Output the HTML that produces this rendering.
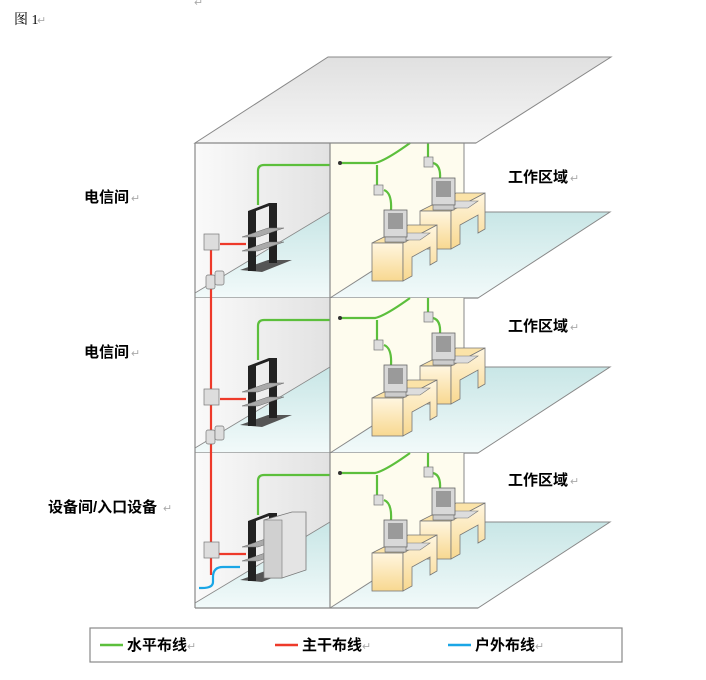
<!DOCTYPE html>
<html><head><meta charset="utf-8"><style>
body{margin:0;background:#fff;width:706px;height:680px;overflow:hidden}
svg{display:block}
.t{font-family:"Liberation Sans","Noto Sans CJK SC",sans-serif;font-weight:bold;font-size:15px;fill:#000}
.r{fill:#aaa;font-size:11px;font-weight:normal;font-family:"Liberation Sans","Noto Sans CJK SC",sans-serif}
</style></head><body>
<svg width="706" height="680" viewBox="0 0 706 680" xmlns="http://www.w3.org/2000/svg">
<defs>
<linearGradient id="gw" x1="0" x2="1" y1="0" y2="0"><stop offset="0" stop-color="#fafafa"/><stop offset="1" stop-color="#e2e2e2"/></linearGradient>
<linearGradient id="gr" x1="0" x2="0" y1="0" y2="1"><stop offset="0" stop-color="#e0e0e0"/><stop offset="1" stop-color="#f6f6f6"/></linearGradient>
<linearGradient id="gf" x1="0" x2="0" y1="0" y2="1"><stop offset="0" stop-color="#c8e6e6"/><stop offset="1" stop-color="#f2fafa"/></linearGradient>
<linearGradient id="gd" x1="0" x2="0" y1="0" y2="1"><stop offset="0" stop-color="#fff6e0"/><stop offset="1" stop-color="#f8d890"/></linearGradient>
<g id="desk">
<polygon points="372,100 403,100 437,82 408,82" fill="#fbe3a8" stroke="#777" stroke-width="0.8"/>
<rect x="372" y="100" width="31" height="38" fill="url(#gd)" stroke="#777" stroke-width="0.8"/>
<polygon points="403,100 437,82 437,118 430,122 430,104 412,114 412,133 403,138" fill="url(#gd)" stroke="#777" stroke-width="0.8"/>
<polygon points="396,97 420,97 430,90 406,90" fill="#ddd" stroke="#777" stroke-width="0.6"/>
<rect x="384" y="67" width="23" height="27" fill="#d8d8d8" stroke="#666" stroke-width="0.8"/>
<rect x="388" y="70" width="15" height="16" fill="#9a9a9a"/>
<rect x="385" y="94" width="21" height="5" fill="#ccc" stroke="#666" stroke-width="0.6"/>
</g>
<g id="lvl">
<rect x="195" y="0" width="135" height="155" fill="url(#gw)"/>
<polygon points="195,150 330,69 330,155 195,155" fill="url(#gf)"/>
<line x1="195" y1="150" x2="330" y2="69" stroke="#888" stroke-width="0.8"/>
<polygon points="330,0 464,0 464,69 330,155" fill="#fefcee"/>
<polygon points="330,155 464,69 610,69 478,155" fill="url(#gf)" stroke="#888" stroke-width="1"/>
<line x1="464" y1="0" x2="464" y2="69" stroke="#888"/>
<line x1="195" y1="155" x2="478" y2="155" stroke="#888" stroke-width="1.2"/>
<!-- rack -->
<polygon points="240,127 268,117 292,117 262,129" fill="#555"/>
<rect x="248" y="68" width="8" height="60" fill="#222"/>
<rect x="269" y="60" width="8" height="60" fill="#222"/>
<polygon points="248,68 269,60 277,60 256,68" fill="#222"/>
<polygon points="242,94 268,85 284,85 258,94" fill="#aaa" stroke="#666" stroke-width="0.5"/>
<polygon points="242,108 268,99 284,99 258,108" fill="#aaa" stroke="#666" stroke-width="0.5"/>
<!-- green -->
<path d="M258,62 V28 Q258,22 264,22 H330" fill="none" stroke="#5cbf3c" stroke-width="2.2"/>
<path d="M340,20 H375 Q385,18 410,0" fill="none" stroke="#5cbf3c" stroke-width="2.2"/>
<circle cx="340" cy="20" r="2" fill="#333"/>
<path d="M377,22 V42 M384,47 Q392,50 391,67" fill="none" stroke="#5cbf3c" stroke-width="2.2"/>
<path d="M428,0 V14 M433,20 Q441,22 440,36" fill="none" stroke="#5cbf3c" stroke-width="2.2"/>
<rect x="374" y="42" width="9" height="10" fill="#ddd" stroke="#777" stroke-width="0.7"/>
<rect x="424" y="14" width="9" height="10" fill="#ddd" stroke="#777" stroke-width="0.7"/>
<use href="#desk" transform="translate(48,-32)"/>
<use href="#desk"/>
</g>
</defs>
<text x="14" y="24" font-family="Liberation Serif,'Noto Serif CJK SC',serif" font-size="14">图 1</text><text x="37" y="24" class="r">↵</text>
<text x="194" y="6" class="r">↵</text>
<polygon points="195,143 328,57 611,57 476,143" fill="url(#gr)" stroke="#888" stroke-width="1"/>
<use href="#lvl" transform="translate(0,143)"/>
<use href="#lvl" transform="translate(0,298)"/>
<use href="#lvl" transform="translate(0,453)"/>
<line x1="195" y1="143" x2="476" y2="143" stroke="#888" stroke-width="1.2"/>
<line x1="195" y1="143" x2="195" y2="608" stroke="#888" stroke-width="1.2"/>
<line x1="330" y1="143" x2="330" y2="608" stroke="#888" stroke-width="1.2"/>
<path d="M211,250 V575" stroke="#ee3a2a" stroke-width="2.2" fill="none"/>
<path d="M220,244 H246 M220,399 H246 M218,554 H246" stroke="#ee3a2a" stroke-width="2.2"/>
<g fill="#ddd" stroke="#777" stroke-width="0.7">
<rect x="204" y="234" width="15" height="16"/><rect x="204" y="389" width="15" height="16"/><rect x="204" y="542" width="15" height="16"/>
<rect x="206" y="275" width="9" height="14" rx="2"/><rect x="215" y="271" width="9" height="14" rx="2"/>
<rect x="206" y="430" width="9" height="14" rx="2"/><rect x="215" y="426" width="9" height="14" rx="2"/>
</g>
<path d="M240,567 H223 Q213,567 213,577 V582 Q213,588 202,588 H199" stroke="#1aa6e6" stroke-width="2.2" fill="none"/>
<polygon points="264,520 292,512 306,512 306,570 282,578 264,578" fill="#e4e4e4" stroke="#777" stroke-width="0.8"/>
<rect x="264" y="520" width="18" height="58" fill="#d0d0d0" stroke="#777" stroke-width="0.6"/>
<text x="84" y="202" class="t">电信间</text><text x="131" y="202" class="r">↵</text>
<text x="84" y="357" class="t">电信间</text><text x="131" y="357" class="r">↵</text>
<text x="48" y="512" class="t">设备间/入口设备</text><text x="163" y="512" class="r">↵</text>
<text x="508" y="182" class="t">工作区域</text><text x="570" y="182" class="r">↵</text>
<text x="508" y="331" class="t">工作区域</text><text x="570" y="331" class="r">↵</text>
<text x="508" y="485" class="t">工作区域</text><text x="570" y="485" class="r">↵</text>
<rect x="90" y="628" width="532" height="34" fill="#fff" stroke="#888" stroke-width="1.2"/>
<line x1="100" y1="645" x2="123" y2="645" stroke="#5cbf3c" stroke-width="2.5"/>
<text x="127" y="650" class="t">水平布线</text><text x="187" y="650" class="r">↵</text>
<line x1="275" y1="645" x2="298" y2="645" stroke="#ee3a2a" stroke-width="2.5"/>
<text x="302" y="650" class="t">主干布线</text><text x="362" y="650" class="r">↵</text>
<line x1="448" y1="645" x2="471" y2="645" stroke="#1aa6e6" stroke-width="2.5"/>
<text x="475" y="650" class="t">户外布线</text><text x="535" y="650" class="r">↵</text>
</svg>
</body></html>
